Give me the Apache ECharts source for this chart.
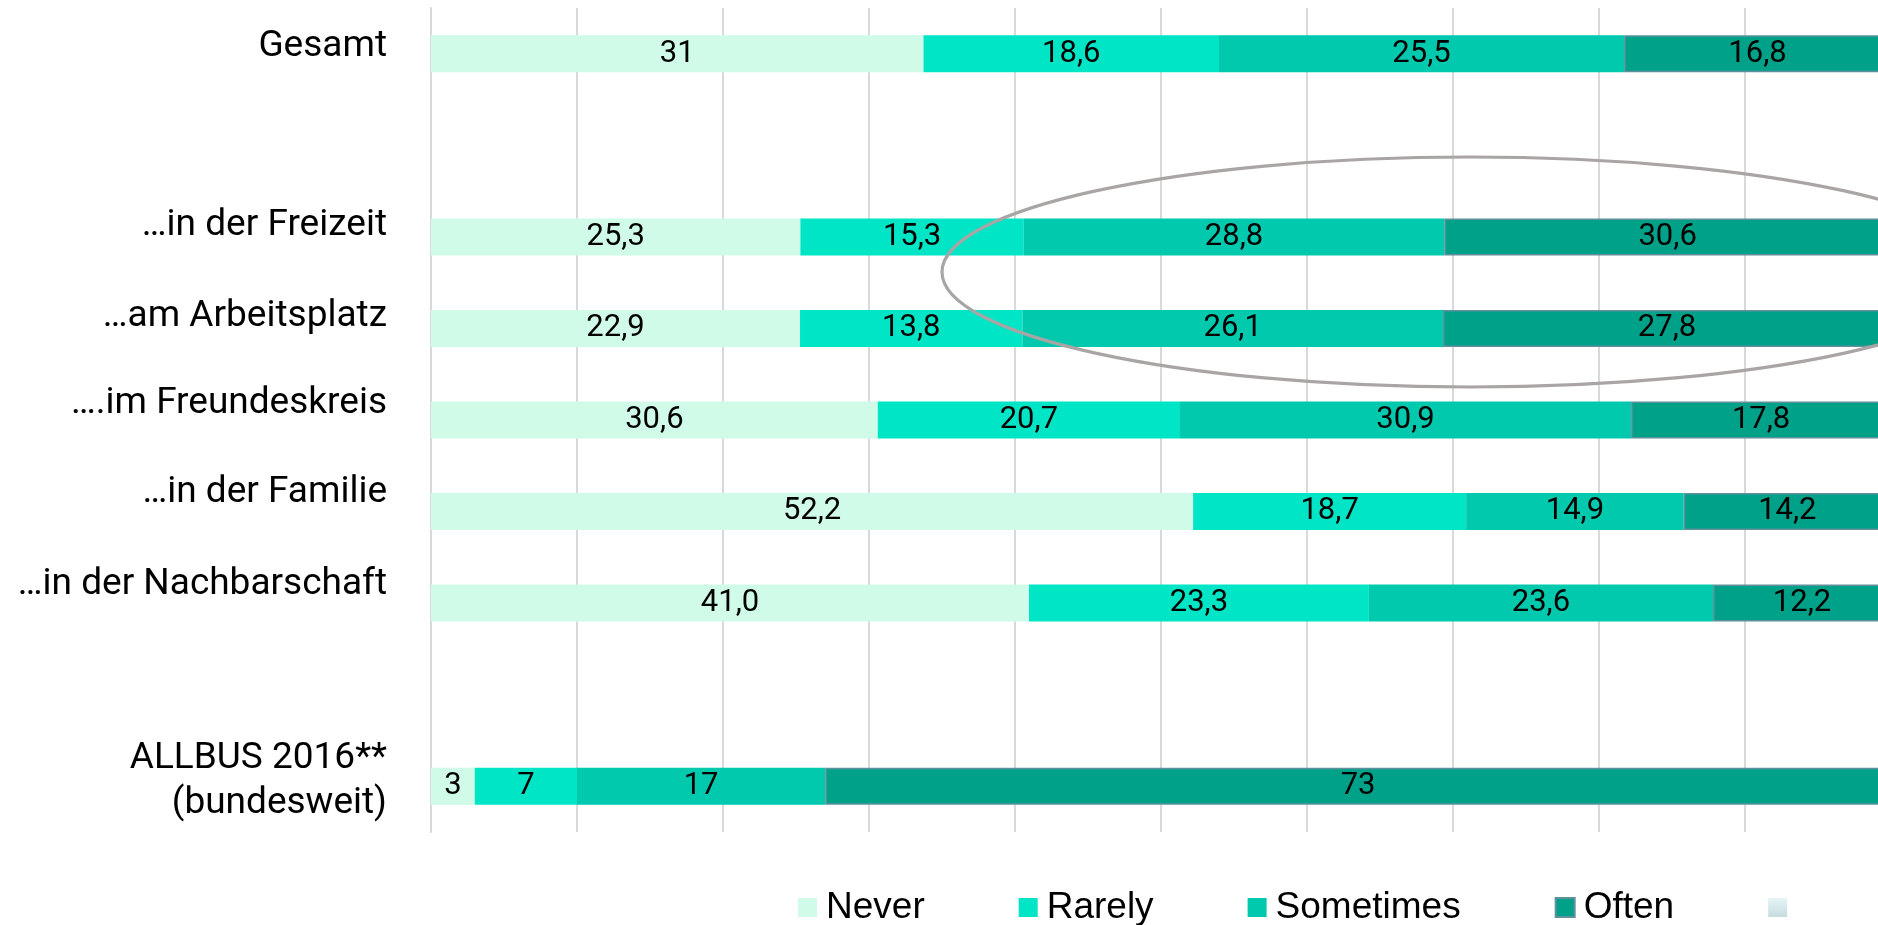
<!DOCTYPE html>
<html><head><meta charset="utf-8">
<script src="https://cdn.jsdelivr.net/npm/echarts@6/dist/echarts.min.js"></script>
<style>html,body{margin:0;padding:0;background:#fff}#c{width:1878px;height:925px}</style>
</head><body><div id="c"></div>
<script>
// ---- data ----
const categories = ['Gesamt', '', '…in der Freizeit', '…am Arbeitsplatz', '….im Freundeskreis', '…in der Familie', '…in der Nachbarschaft', '', 'ALLBUS 2016**\n(bundesweit)'];
const never     = ['31',   null, '25,3', '22,9', '30,6', '52,2', '41,0', null, '3'];
const rarely    = ['18,6', null, '15,3', '13,8', '20,7', '18,7', '23,3', null, '7'];
const sometimes = ['25,5', null, '28,8', '26,1', '30,9', '14,9', '23,6', null, '17'];
const often     = ['16,8', null, '30,6', '27,8', '17,8', '14,2', '12,2', null, '73'];
const seriesNames = ['Never', 'Rarely', 'Sometimes', 'Often', ' '];

// ---- styling ----
const colors = ['#d0fbe8', '#00e5c6', '#00c9ae', '#00a189'];
const labelLift = [7, 0, 11.5, 12, 16.5, 19, 18, 0, 4.5];

const raw = [never, rarely, sometimes, often];
const num = s => s == null ? null : parseFloat(s.replace(',', '.'));
const totals = categories.map((c, i) => raw.reduce((a, arr) => a + (num(arr[i]) || 0), 0));

const rich = { t: { fontFamily: 'Roboto', fontSize: 37, lineHeight: 45, color: '#000' } };
labelLift.forEach((v, i) => { if (v) rich['s' + i] = { fontSize: 1, lineHeight: v * 2, height: v * 2 }; });

const series = raw.map((arr, k) => ({
  name: seriesNames[k],
  type: 'bar',
  stack: 'total',
  barWidth: 37,
  itemStyle: k === 3 ? { color: colors[k], borderColor: '#5f909b', borderWidth: 1.5 } : { color: colors[k] },
  label: {
    show: true, position: 'inside', color: '#000', fontFamily: 'Roboto', fontSize: 31,
    formatter: p => arr[p.dataIndex] == null ? '' : arr[p.dataIndex]
  },
  data: arr.map((s, i) => s == null ? '-' : num(s) / totals[i] * 100)
}));
series.push({
  name: seriesNames[4], type: 'bar', stack: 'total', barWidth: 37,
  itemStyle: { color: { type: 'linear', x: 0, y: 0, x2: 0, y2: 1, colorStops: [{ offset: 0, color: '#e6f4f6' }, { offset: 1, color: '#c6dcdf' }] } },
  data: categories.map(() => '-')
});

const chart = echarts.init(document.getElementById('c'), null, { renderer: 'canvas' });
chart.setOption({
  animation: false,
  backgroundColor: '#fff',
  grid: { left: 431, top: 8, width: 1460, height: 824, containLabel: false, outerBoundsMode: 'none' },
  xAxis: {
    type: 'value', min: 0, max: 100, interval: 10,
    axisLabel: { show: false }, axisTick: { show: false }, axisLine: { show: false },
    splitLine: { show: true, lineStyle: { color: '#d9d9d9', width: 2 } }
  },
  yAxis: {
    type: 'category', inverse: true, data: categories,
    axisTick: { show: false },
    axisLine: { show: true, lineStyle: { color: '#d9d9d9', width: 2 } },
    axisLabel: {
      margin: 44, align: 'right', verticalAlign: 'middle', interval: 0,
      formatter: (v, i) => {
        if (!v) return '';
        let s = v.split('\n').map(l => '{t|' + l + '}').join('\n');
        if (labelLift[i]) s += '\n{s' + i + '| }';
        return s;
      },
      rich: rich
    }
  },
  legend: {
    left: 793, top: 884, itemWidth: 19, itemHeight: 19, itemGap: 94, icon: 'rect',
    textStyle: { fontFamily: 'Liberation Sans', fontSize: 37, color: '#000', padding: [0, 0, 0, 4] },
    data: seriesNames
  },
  graphic: [{
    type: 'ellipse', z: 100,
    shape: { cx: 1470, cy: 272, rx: 528, ry: 115 },
    style: { fill: 'none', stroke: '#a9a5a5', lineWidth: 3.2 }
  }],
  series: series
});
</script></body></html>
